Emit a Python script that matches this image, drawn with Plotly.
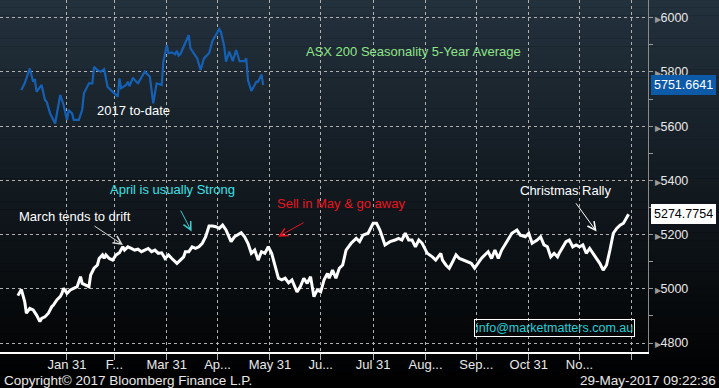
import plotly.graph_objects as go

# ---------------- data ----------------
# 5-year average seasonality (x = day of year, y = index level)
white_day = [2, 4, 6, 7, 9, 11, 13, 15, 16, 18,
             20, 22, 23, 25, 27, 28, 29, 31, 33, 35,
             37, 38, 39, 40, 42, 44, 45, 47, 49, 50,
             52, 53, 54, 56, 58, 60, 62, 64, 65, 67,
             69, 71, 73, 75, 77, 79, 81, 83, 85, 87,
             89, 91, 93, 96, 98, 100, 101, 103, 105, 107,
             109, 111, 113, 115, 117, 119, 121, 123, 125, 128,
             130, 134, 136, 138, 140, 142, 144, 146, 148, 150,
             152, 154, 156, 158, 160, 162, 164, 167, 169, 171,
             173, 175, 177, 179, 181, 183, 185, 186, 188, 190,
             192, 194, 196, 199, 202, 204, 206, 209, 212, 214,
             216, 219, 222, 225, 227, 229, 231, 233, 235, 237,
             239, 241, 244, 247, 249, 252, 253, 255, 257, 259,
             261, 263, 265, 268, 270, 272, 274, 276, 278, 280,
             282, 284, 286, 288, 291, 294, 297, 299, 302, 304,
             306, 309, 311, 313, 315, 317, 319, 321, 322, 324,
             326, 328, 330, 332, 334, 336, 338, 340, 342, 344,
             346, 348, 350, 352, 354, 356, 358, 360, 362, 363]
white_val = [4975, 4998, 4953, 4910, 4928, 4922, 4903, 4879, 4891, 4897,
             4910, 4934, 4940, 4959, 4971, 4983, 5002, 4983, 4996, 5002,
             5008, 5026, 5045, 5020, 5014, 5008, 5051, 5076, 5088, 5112,
             5125, 5112, 5125, 5112, 5106, 5125, 5133, 5155, 5143, 5155,
             5149, 5143, 5146, 5137, 5143, 5149, 5137, 5143, 5131, 5133,
             5112, 5125, 5112, 5094, 5106, 5118, 5137, 5137, 5155, 5149,
             5155, 5168, 5192, 5232, 5232, 5229, 5223, 5235, 5217, 5174,
             5192, 5207, 5192, 5168, 5131, 5143, 5106, 5137, 5131, 5155,
             5131, 5082, 5039, 5033, 5039, 5022, 5033, 4989, 5008, 5039,
             5020, 5045, 4971, 4996, 4989, 5033, 5057, 5039, 5069, 5039,
             5076, 5088, 5143, 5168, 5186, 5174, 5198, 5205, 5242, 5242,
             5217, 5162, 5174, 5180, 5186, 5180, 5205, 5180, 5180, 5155,
             5180, 5168, 5131, 5118, 5106, 5131, 5106, 5088, 5076, 5100,
             5125, 5112, 5106, 5100, 5094, 5076, 5094, 5112, 5125, 5137,
             5112, 5143, 5112, 5143, 5174, 5205, 5217, 5198, 5192, 5205,
             5168, 5180, 5192, 5162, 5155, 5118, 5131, 5118, 5131, 5155,
             5174, 5180, 5155, 5162, 5155, 5162, 5131, 5149, 5131, 5112,
             5094, 5069, 5088, 5143, 5205, 5223, 5235, 5242, 5266, 5274.7754]

# 2017 to-date
blue_day = [4, 6, 9, 11, 12, 13, 16, 18, 19, 21,
            24, 26, 27, 29, 31, 32, 34, 35, 38, 40,
            41, 44, 46, 47, 49, 51, 53, 55, 57, 60,
            61, 62, 63, 66, 67, 68, 70, 71, 73, 77,
            80, 82, 84, 87, 88, 90, 91, 93, 95, 96,
            97, 98, 101, 103, 104, 108, 110, 112, 115, 117,
            121, 122, 124, 125, 127, 128, 129, 131, 133, 136,
            137, 138, 140, 143, 144, 146, 147]
blue_val = [5733, 5758, 5813, 5764, 5773, 5727, 5752, 5696, 5690, 5647,
            5610, 5678, 5715, 5678, 5623, 5660, 5647, 5623, 5623, 5660,
            5721, 5758, 5758, 5819, 5807, 5801, 5810, 5745, 5733, 5715,
            5709, 5776, 5740, 5752, 5764, 5748, 5779, 5770, 5758, 5801,
            5782, 5684, 5758, 5752, 5838, 5899, 5869, 5872, 5865, 5878,
            5860, 5865, 5911, 5936, 5887, 5850, 5807, 5850, 5869, 5914,
            5958, 5948, 5893, 5838, 5875, 5856, 5840, 5881, 5840, 5840,
            5850, 5770, 5730, 5764, 5764, 5791, 5751.6641]

x_tick_days = [31, 59, 90, 120, 151, 181, 212, 243, 273, 304, 334, 365]
x_tick_text = ["Jan 31", "F...", "Mar 31", "Ap...", "May 31", "Ju...",
               "Jul 31", "Aug...", "Sep...", "Oct 31", "No...", ""]
y_tick_vals = [4800, 5000, 5200, 5400, 5600, 5800, 6000]

last_white = white_val[-1]
last_blue = blue_val[-1]

FONT = "Liberation Sans, Arial, sans-serif"
W, H = 719, 388
PL, PR, PT, PB = 0, 71, 0, 36
plot_h = H - PT - PB

fig = go.Figure()
fig.add_trace(go.Scatter(x=white_day, y=white_val, mode="lines",
                         line=dict(color="white", width=3), hoverinfo="skip"))
fig.add_trace(go.Scatter(x=blue_day, y=blue_val, mode="lines",
                         line=dict(color="#1660b4", width=2.2), hoverinfo="skip"))

# background gradient (dark slate at top -> black at bottom)
shapes = []
n = 50
for i in range(n):
    py0 = H * i / n
    py1 = H * (i + 1) / n
    t = (py0 + py1) / 2 / H
    f = (1 - t)
    c = "rgb(%d,%d,%d)" % (36 * f, 50 * f, 62 * f)
    shapes.append(dict(type="rect", xref="paper", yref="paper",
                       x0=-0.02, x1=1.15,
                       y0=1 - py1 / plot_h, y1=1 - py0 / plot_h + 0.001,
                       fillcolor=c, line=dict(width=0), layer="below"))

y_tick_text = ["<span style='font-size:8px;fill:#9a9a9a'>&#9654;</span>%d" % v for v in y_tick_vals]

anns = []
# text labels
def txt(x, y, s, color, size=13):
    anns.append(dict(x=x, y=y, xref="x", yref="y", text=s, showarrow=False,
                     xanchor="left", yanchor="middle",
                     font=dict(family=FONT, size=size, color=color)))

txt(171.1, 5877, "ASX 200 Seasonality 5-Year Average", "#8fe58a")
txt(47.6, 5656, "2017 to-date", "white")
txt(55.3, 5368, "April is usually Strong", "#3de0e6")
txt(1.5, 5265, "March tends to drift", "white")
txt(154.0, 5313, "Sell in May & go away", "#e8141e")
txt(297.6, 5361, "Christmas Rally", "white")

# arrows
def arrow(x, y, ax, ay, color):
    anns.append(dict(x=x, y=y, ax=ax, ay=ay, xref="x", yref="y", axref="x", ayref="y",
                     text="", showarrow=True, arrowhead=5, arrowsize=1.6,
                     arrowwidth=1, arrowcolor=color))

arrow(64.1, 5162, 46.4, 5235, "#d8d8d8")
arrow(104.7, 5211, 97.8, 5294, "#3cc8cc")
arrow(155.9, 5192, 171.7, 5247, "#e8141e")
arrow(344.1, 5211, 331.3, 5321, "white")

# info box
anns.append(dict(x=319.5, y=4854, xref="x", yref="y", text="info@marketmatters.com.au",
                 showarrow=False, xanchor="center", yanchor="middle",
                 font=dict(family=FONT, size=12.5, color="#22d0d8"),
                 bordercolor="white", borderwidth=1, borderpad=1))

# last-value labels on right axis
anns.append(dict(x=651 / 648, y=last_blue, xref="paper", yref="y",
                 text="%.4f" % last_blue, showarrow=False, xanchor="left", yanchor="middle",
                 font=dict(family=FONT, size=12.5, color="white"),
                 bgcolor="#0d5aa8", bordercolor="#0d5aa8", borderwidth=1, borderpad=2))
anns.append(dict(x=651 / 648, y=last_white, xref="paper", yref="y",
                 text="%.4f" % last_white, showarrow=False, xanchor="left", yanchor="middle",
                 font=dict(family=FONT, size=12.5, color="black"),
                 bgcolor="white", bordercolor="white", borderwidth=1, borderpad=2))

# footer texts
anns.append(dict(x=2 / 648, y=1 - 380 / plot_h, xref="paper", yref="paper",
                 text="Copyright© 2017 Bloomberg Finance L.P.", showarrow=False,
                 xanchor="left", yanchor="middle",
                 font=dict(family=FONT, size=13.5, color="#e8e8e8")))
anns.append(dict(x=718 / 648, y=1 - 380 / plot_h, xref="paper", yref="paper",
                 text="29-May-2017 09:22:36", showarrow=False,
                 xanchor="right", yanchor="middle",
                 font=dict(family=FONT, size=13.5, color="#e8e8e8")))

fig.update_layout(
    width=W, height=H,
    margin=dict(l=PL, r=PR, t=PT, b=PB),
    paper_bgcolor="black", plot_bgcolor="rgba(0,0,0,0)",
    showlegend=False,
    shapes=shapes, annotations=anns,
    font=dict(family=FONT, size=12.5, color="#e8e8e8"),
    xaxis=dict(range=[-8.6, 374.5], tickmode="array", tickvals=x_tick_days,
               ticktext=x_tick_text, showgrid=True, gridcolor="#b0b0b0",
               griddash="dot", gridwidth=1, zeroline=False,
               showline=True, linecolor="white", linewidth=2,
               ticks="outside", ticklen=6, tickcolor="#b0b0b0",
               ticklabelstandoff=-7,
               tickfont=dict(family=FONT, size=13, color="#e8e8e8")),
    yaxis=dict(range=[4767, 6065.3], side="right", tickmode="array",
               tickvals=y_tick_vals, ticktext=y_tick_text,
               showgrid=True, gridcolor="#b0b0b0", griddash="dot", gridwidth=1,
               zeroline=False, showline=True, linecolor="#8a8a8a", linewidth=1,
               ticks="outside", ticklen=3, tickcolor="#9a9a9a",
               minor=dict(dtick=100, tick0=4800, ticks="outside", ticklen=4,
                          tickcolor="#9a9a9a", showgrid=False),
               tickfont=dict(family=FONT, size=12.5, color="#e8e8e8")),
)

fig.write_html("out.html", config={"displayModeBar": False},
               post_script="document.body.style.margin='0';document.body.style.overflow='hidden';")
